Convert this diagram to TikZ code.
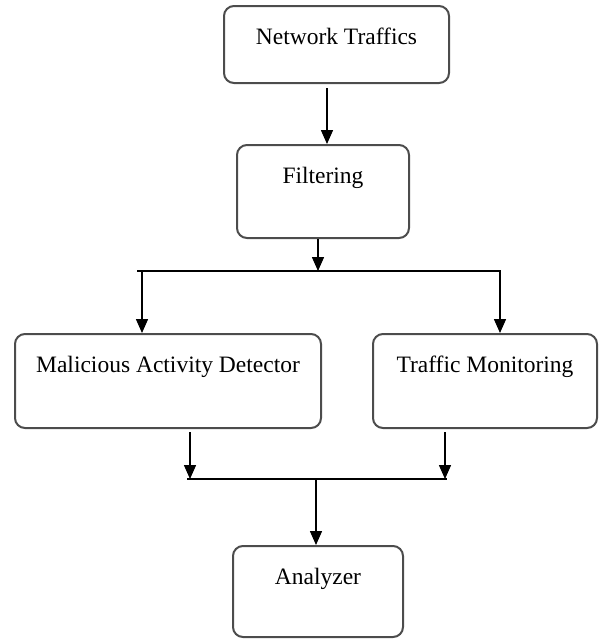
\documentclass[tikz,border=0pt]{standalone}
\usepackage{fontspec}
\setmainfont{Liberation Serif}
\usetikzlibrary{arrows.meta}

\begin{document}
\begin{tikzpicture}[x=0.5pt,y=-0.5pt,font=\fontsize{11.75}{14}\selectfont]
\tikzstyle{block}=[draw=black!70,line width=1pt,rounded corners=5pt,anchor=north,inner sep=0,text height=19.25pt]
\tikzstyle{arrow}=[line width=0.75pt,-{Triangle[width=6pt,length=7pt]}]
\tikzstyle{bus}=[line width=0.75pt]
\useasboundingbox (0,0) rectangle (599,639);
\node[block,minimum width=112.5pt,text depth=19.25pt](traffic) at (336.5,5){Network Traffics};
\node[block,minimum width=86pt,text depth=27.25pt](filter) at (323,144){Filtering};
\node[block,minimum width=153pt,text depth=27.75pt](detector) at (168,333){Malicious Activity Detector};
\node[block,minimum width=112pt,text depth=27.75pt](monitor) at (485,333){Traffic Monitoring};
\node[block,minimum width=85pt,text depth=26.25pt](analyzer) at (318,545){Analyzer};
\coordinate (fork left) at (137,271);
\coordinate (fork right) at (501,271);
\coordinate (join left) at (187,479);
\coordinate (join right) at (447,479);
\draw[arrow,shorten <=2pt] ([xshift=-4.75pt]traffic.south) -- ([xshift=-4.75pt]traffic.south |- filter.north);
\draw[arrow] ([xshift=-2.5pt]filter.south) -- ([xshift=-2.5pt]filter.south |- fork left);
\draw[bus] (fork left) -- (fork right);
\draw[arrow] ([xshift=-13pt]detector.north |- fork left) -- ([xshift=-13pt]detector.north);
\draw[arrow] ([xshift=7.5pt]monitor.north |- fork left) -- ([xshift=7.5pt]monitor.north);
\draw[arrow,shorten <=1.5pt] ([xshift=11pt]detector.south) -- ([xshift=11pt]detector.south |- join left);
\draw[arrow,shorten <=1.5pt] ([xshift=-20pt]monitor.south) -- ([xshift=-20pt]monitor.south |- join left);
\draw[bus] (join left) -- (join right);
\draw[arrow] ([xshift=-1pt]analyzer.north |- join left) -- ([xshift=-1pt]analyzer.north);
\end{tikzpicture}
\end{document}
